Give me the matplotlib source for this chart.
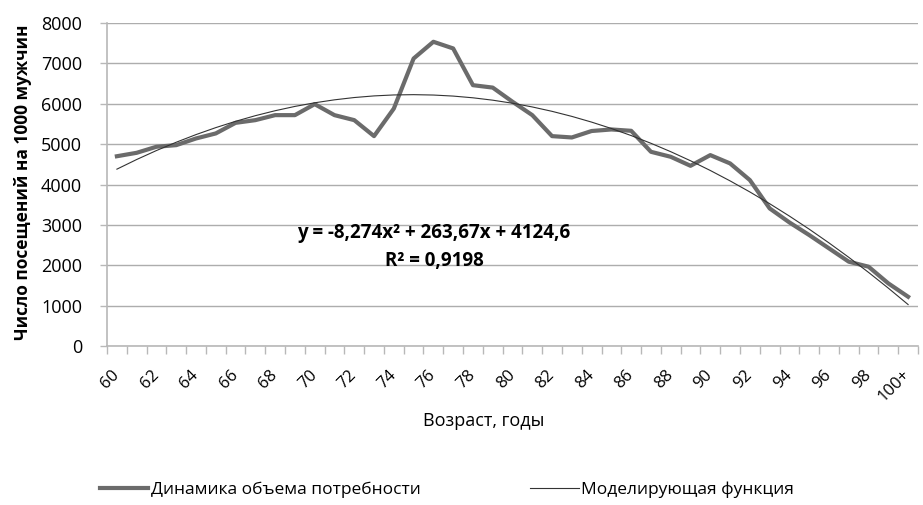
import numpy as np
import matplotlib
matplotlib.use("Agg")
import matplotlib.pyplot as plt

plt.rcParams['font.family'] = ['Open Sans', 'DejaVu Sans']

ages = [str(a) for a in range(60, 100)] + ["100+"]
visits = [4700, 4785, 4935, 4975, 5140, 5265, 5527, 5594, 5718, 5718,
          5990, 5718, 5594, 5198, 5880, 7120, 7535, 7370, 6460, 6400,
          6050, 5718, 5198, 5165, 5325, 5363, 5330, 4810, 4686, 4463,
          4728, 4522, 4109, 3408, 3060, 2748, 2418, 2088, 1964, 1551, 1220]
trend_coefs = [-8.274, 263.67, 4124.6]
r_squared = "0,9198"
yticks = [0, 1000, 2000, 3000, 4000, 5000, 6000, 7000, 8000]

fig = plt.figure(figsize=(9.23, 5.05), dpi=100)
ax = fig.add_axes([107/923, 1-346/505, (918-107)/923, (346-23)/505])

x = np.arange(len(ages))
xn = x + 1
trend = np.polyval(trend_coefs, xn)

ax.plot(x, visits, color='#6b6b6b', lw=3.0, solid_joinstyle='round', zorder=3,
        label='Динамика объема потребности')
ax.plot(x, trend, color='#333333', lw=0.8, zorder=4, label='Моделирующая функция')

ax.set_xlim(-0.5, len(ages) - 0.5)
ax.set_ylim(0, 8000)
ax.set_yticks(yticks)
ax.set_yticklabels([str(v) for v in yticks], fontsize=13)
ax.grid(axis='y', color='#adadad', lw=1.0)
ax.set_axisbelow(True)

ax.set_xticks(np.arange(-0.5, len(ages), 1.0))
ax.set_xticklabels([])
ax.tick_params(axis='x', which='major', length=6, color='#b8b8b8', width=1)
lab_idx = list(range(0, len(ages), 2))
ax.set_xticks(lab_idx, minor=True)
ax.set_xticklabels([ages[i] for i in lab_idx], minor=True, rotation=45,
                   fontsize=12, ha='right', va='center', rotation_mode='anchor')
ax.tick_params(axis='x', which='minor', length=0, pad=19)
ax.tick_params(axis='y', length=5, color='#b8b8b8', width=1, pad=13)

for s in ['top', 'right']:
    ax.spines[s].set_visible(False)
ax.spines['left'].set_color('#b8b8b8')
ax.spines['bottom'].set_color('#b8b8b8')
ax.spines['left'].set_linewidth(1.2)
ax.spines['bottom'].set_linewidth(1.2)

ax.set_ylabel('Число посещений на 1000 мужчин', fontsize=12.5, fontweight='bold',
              va='center')
ax.yaxis.set_label_coords((23-107)/811, (346-182)/323)
ax.set_xlabel('Возраст, годы', fontsize=13, va='center')
ax.xaxis.set_label_coords((484-107)/811, (346-421)/323)

a, b, c = trend_coefs
eq = "y = {}x² + {}x + {}".format(str(a).replace('.', ','), str(b).replace('.', ','),
                                   str(c).replace('.', ','))
fig.text(434/923, 1-233/505, eq, ha='center', va='center', fontsize=13.5, fontweight='bold')
fig.text(434/923, 1-261/505, "R² = " + r_squared, ha='center', va='center',
         fontsize=13.5, fontweight='bold')

fig.legend(loc='center', bbox_to_anchor=(447/923, 1-490/505), ncol=2, frameon=False,
           fontsize=12.5, handlelength=2.8, columnspacing=6.3, handletextpad=0.15)

fig.savefig('out.png', dpi=100)
